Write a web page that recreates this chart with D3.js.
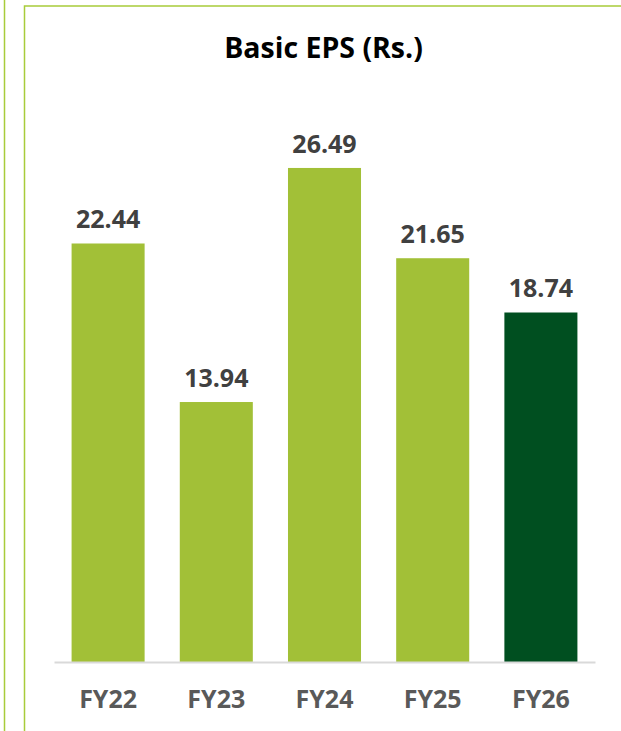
<!DOCTYPE html>
<html><head><meta charset="utf-8">
<script src="https://cdn.jsdelivr.net/npm/d3@7"></script>
<style>html,body{margin:0;padding:0;background:#fff;}svg{display:block;}</style>
</head><body>
<script>
const categories = ["FY22","FY23","FY24","FY25","FY26"];
const values = [22.44, 13.94, 26.49, 21.65, 18.74];
const title = "Basic EPS (Rs.)";
const barColors = ["#a2c037","#a2c037","#a2c037","#a2c037","#004f20"];

const W = 621, H = 731;
const svg = d3.select("body").append("svg").attr("width", W).attr("height", H);

// panel borders
const borderColor = "#a8cc3a";
svg.append("line").attr("x1",4.5).attr("x2",4.5).attr("y1",0).attr("y2",H).attr("stroke",borderColor).attr("stroke-width",1.5);
svg.append("path").attr("d",`M24.5,${H} V6 H${W}`).attr("fill","none").attr("stroke",borderColor).attr("stroke-width",1.5);

const x = d3.scaleBand().domain(categories).range([54,595]).paddingInner(0.325).paddingOuter(0.1625);
const y = d3.scaleLinear().domain([0,30]).range([662,102.5]);

svg.append("text").attr("x",323.5).attr("y",58).attr("text-anchor","middle")
  .attr("font-family","'Open Sans', sans-serif").attr("font-weight",700).attr("font-size",28.5)
  .attr("fill","#000").text(title);

svg.selectAll("rect.bar").data(values).join("rect").attr("class","bar")
  .attr("x",(d,i)=>x(categories[i])).attr("width",x.bandwidth())
  .attr("y",d=>y(d)).attr("height",d=>y(0)-y(d)).attr("fill",(d,i)=>barColors[i]);

svg.selectAll("text.val").data(values).join("text").attr("class","val")
  .attr("x",(d,i)=>x(categories[i])+x.bandwidth()/2).attr("y",d=>y(d)-15)
  .attr("text-anchor","middle").attr("font-family","'Open Sans', sans-serif")
  .attr("font-weight",700).attr("font-size",25).attr("fill","#404040")
  .text(d=>d.toFixed(2));

const axis = svg.append("g").attr("transform",`translate(0,${y(0)})`)
  .call(d3.axisBottom(x).tickSize(0).tickPadding(0));
axis.select(".domain").attr("stroke","#d9d9d9").attr("stroke-width",2);
axis.selectAll("text").attr("dy",null).attr("y",46)
  .attr("font-family","'Open Sans', sans-serif").attr("font-weight",700)
  .attr("font-size",25).attr("fill","#595959");
</script>
</body></html>
